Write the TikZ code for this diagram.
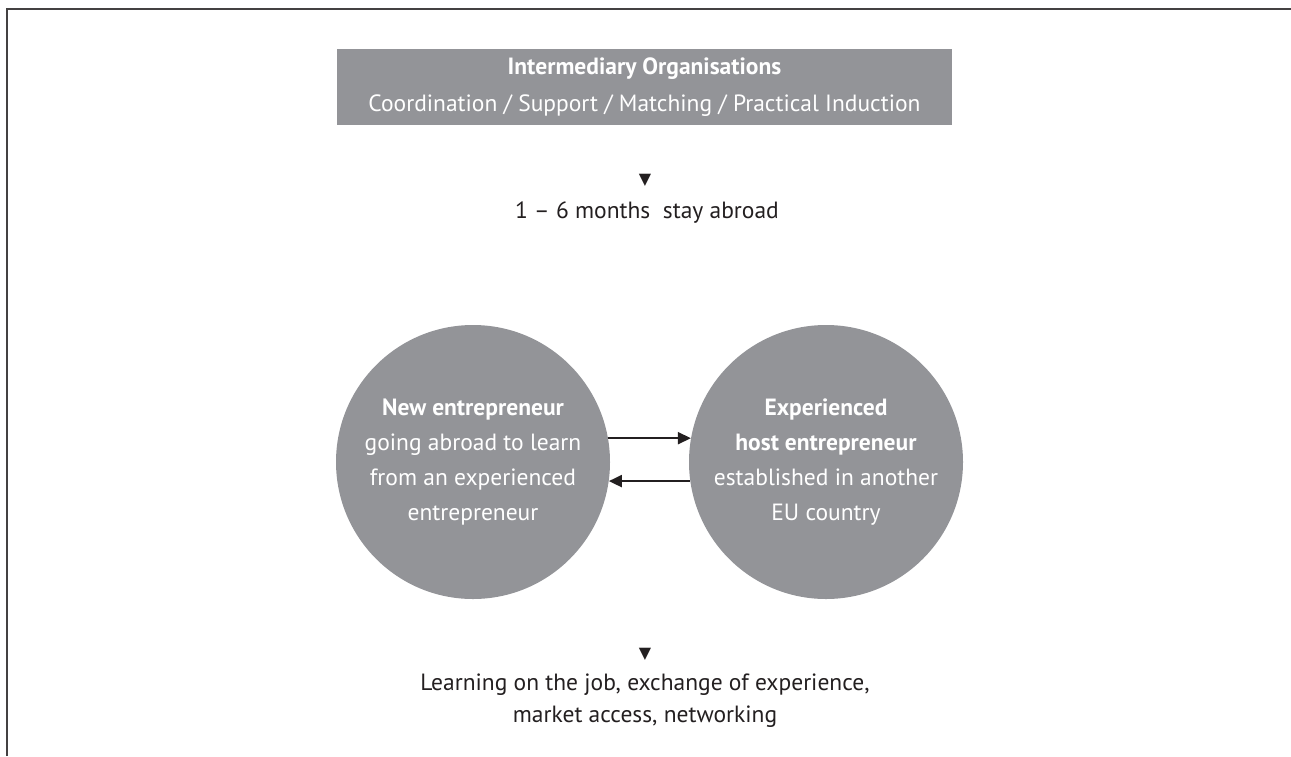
\documentclass[tikz,border=0pt]{standalone}
\usepackage{fontspec}
\setmainfont{PT Sans}
\newfontfamily\symfont{DejaVu Sans}
\usetikzlibrary{shapes,arrows.meta,positioning,calc}
\definecolor{boxgrey}{RGB}{147,148,152}
\definecolor{ink}{RGB}{35,31,32}
\tikzset{
  greybox/.style={rectangle, fill=boxgrey, text=white, align=center, minimum width=615pt, minimum height=76pt, inner sep=0pt, font=\fontsize{23.5}{37}\selectfont},
  person/.style={circle, fill=boxgrey, text=white, align=center, minimum size=274pt, inner sep=0pt, font=\fontsize{23.5}{35}\selectfont},
  tri/.style={text=ink, inner sep=0pt, font=\symfont\fontsize{16}{16}\selectfont},
  caption/.style={text=ink, align=center, font=\fontsize{23.5}{32}\selectfont},
  link/.style={-{Triangle[length=13pt,width=12pt]}, draw=ink, line width=2pt},
}

\begin{document}
\begin{tikzpicture}[x=1pt,y=-1pt]
\useasboundingbox (0,0) rectangle (1291,756);
\draw[ink!85, line width=2pt] (7,756) -- (7,9) -- (1291,9);

\node[greybox] (org) at (644.5,87) {\textbf{Intermediary Organisations}\\Coordination / Support / Matching / Practical Induction};
\node[tri] (down1) at (645,180) {▼};
\node[caption] (stay) at (647,213) {1 – 6 months\ \ stay abroad};

\node[person] (newent) at (473,462) {\textbf{New entrepreneur}\\going abroad to learn\\from an experienced\\entrepreneur};
\node[person] (hostent) at (826,462) {\textbf{Experienced}\\\textbf{host entrepreneur}\\established in another\\EU country};

\draw[link] (newent.10) -- (hostent.170);
\draw[link] (hostent.188) -- (newent.-8);

\node[tri] (down2) at (645,654) {▼};
\node[caption] (result) at (645,701) {Learning on the job, exchange of experience,\\market access, networking};
\end{tikzpicture}
\end{document}
